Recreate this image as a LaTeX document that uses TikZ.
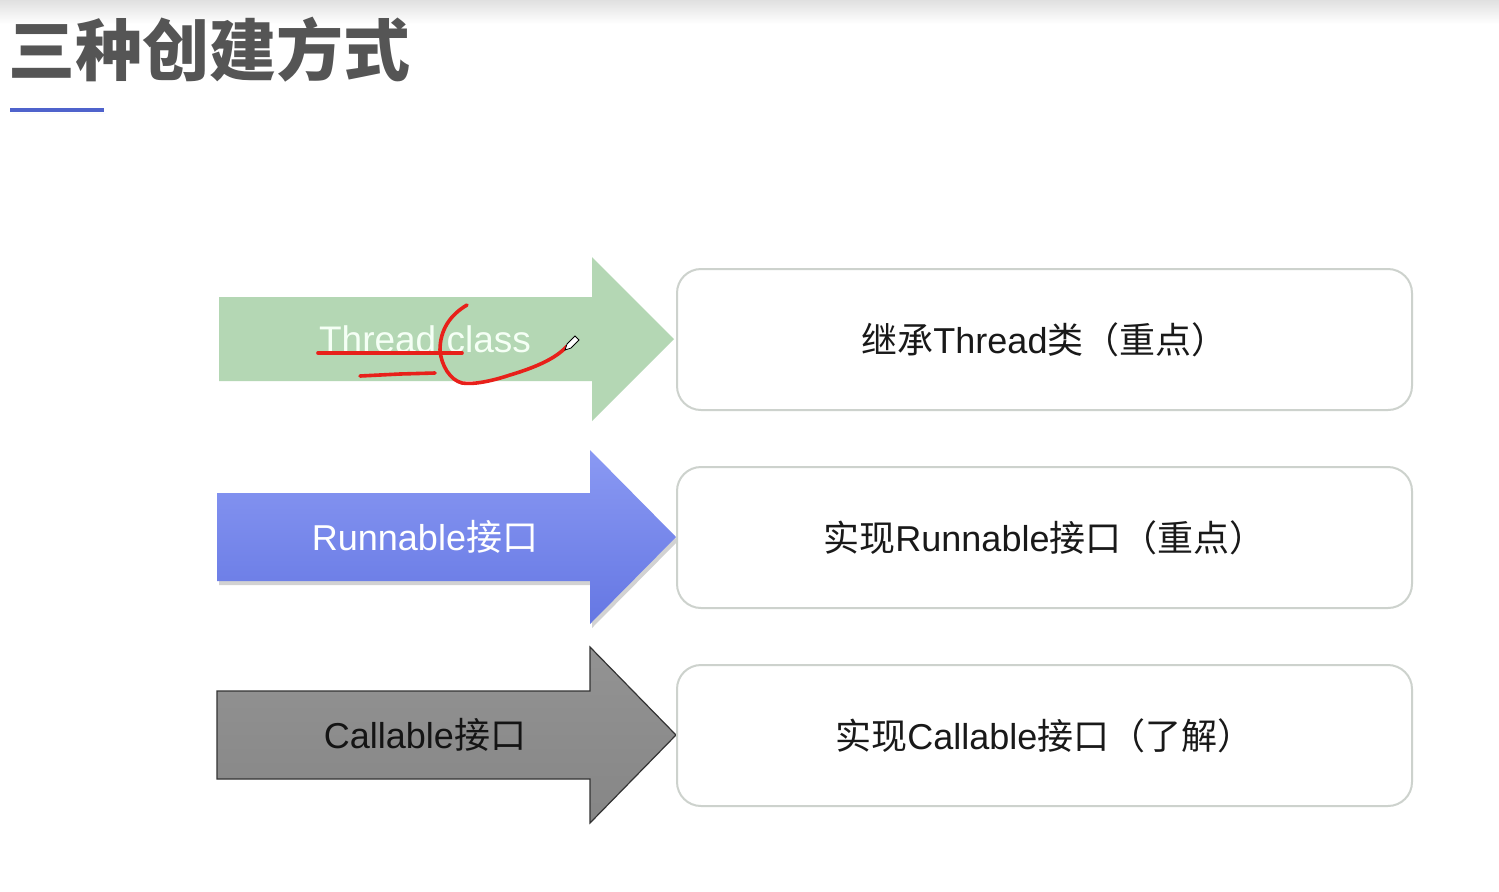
\documentclass[tikz,border=0pt]{standalone}
\usepackage{fontspec}
\setmainfont{Liberation Sans}
\newfontfamily\cjk{Noto Sans CJK SC}
\usetikzlibrary{shadows}
\definecolor{titlegray}{HTML}{555555}
\definecolor{ublue}{HTML}{4F63CC}
\definecolor{tgreen}{HTML}{B4D7B4}
\definecolor{btop}{HTML}{8A99F3}
\definecolor{bbot}{HTML}{6577E3}
\definecolor{gtop}{HTML}{939393}
\definecolor{gbot}{HTML}{868686}
\definecolor{boxline}{HTML}{CDD2CD}
\definecolor{inkred}{HTML}{E8201A}
\tikzset{
  rbox/.style={draw=boxline, line width=1pt, rounded corners=12pt, fill=white,
    minimum width=367.5pt, minimum height=70.5pt, inner sep=0pt,
    font=\fontsize{18}{22}\selectfont, text=black!90},
  lbl/.style={font=\fontsize{18}{22}\selectfont, inner sep=0pt},
  redink/.style={draw=inkred, line width=1.8pt, line cap=round, line join=round}
}
\begin{document}
\begin{tikzpicture}[x=0.5pt,y=-0.5pt]
\useasboundingbox (0,0) rectangle (1499,891);
\fill[white] (0,0) rectangle (1499,891);
\shade[top color=black!12, bottom color=white] (0,0) rectangle (1499,24);
% title
\node[anchor=west, text=titlegray, inner sep=0pt,
  font=\cjk\bfseries\fontsize{33.5}{40}\selectfont] (title) at (8,50) {三种创建方式};
\coordinate (ulA) at (10,110);
\coordinate (ulB) at (104,110);
\draw[ublue, line width=1.6pt, drop shadow={opacity=0.25, shadow xshift=1pt, shadow yshift=-1.5pt}] (ulA) -- (ulB);
% arrows
\fill[tgreen] (219,297) -- (592,297) -- (592,257) -- (674,339) -- (592,421) -- (592,381) -- (219,381) -- cycle;
\path[top color=btop, bottom color=bbot, drop shadow={opacity=0.35, shadow xshift=1pt, shadow yshift=-2pt}]
  (217,493) -- (590,493) -- (590,450) -- (676,537) -- (590,624) -- (590,581) -- (217,581) -- cycle;
\path[top color=gtop, bottom color=gbot, draw=black!80, line width=0.6pt]
  (217,691) -- (590,691) -- (590,647) -- (676,735) -- (590,823) -- (590,779) -- (217,779) -- cycle;
% arrow labels
\node[lbl, text=green!4!white, font=\fontsize{18.5}{22}\selectfont] (a1) at (425,339) {Thread class};
\node[lbl, text=white] (a2) at (425,537) {Runnable{\cjk 接口}};
\node[lbl, text=black!92] (a3) at (425,735) {Callable{\cjk 接口}};
% right boxes
\node[rbox] (b1) at (1044.5,339.5) {{\cjk 继承}Thread{\cjk 类（重点）}};
\node[rbox] (b2) at (1044.5,537.5) {{\cjk 实现}Runnable{\cjk 接口（重点）}};
\node[rbox] (b3) at (1044.5,735.5) {{\cjk 实现}Callable{\cjk 接口（了解）}};
% red annotations
\draw[redink] (318,353) -- (462,353);
\draw[redink] (360,376) -- (400,374) -- (435,373);
\draw[redink] (467,305) .. controls (450,315) and (440,330) .. (440,350)
  .. controls (441,365) and (450,380) .. (462,383)
  .. controls (475,385) and (495,380) .. (510,375)
  .. controls (530,369) and (555,360) .. (567,346);
% pen cursor
\draw[fill=white, line width=0.4pt] (565,350) -- (567,344) -- (575,336) -- (579,340) -- (571,348) -- cycle;
\end{tikzpicture}
\end{document}
